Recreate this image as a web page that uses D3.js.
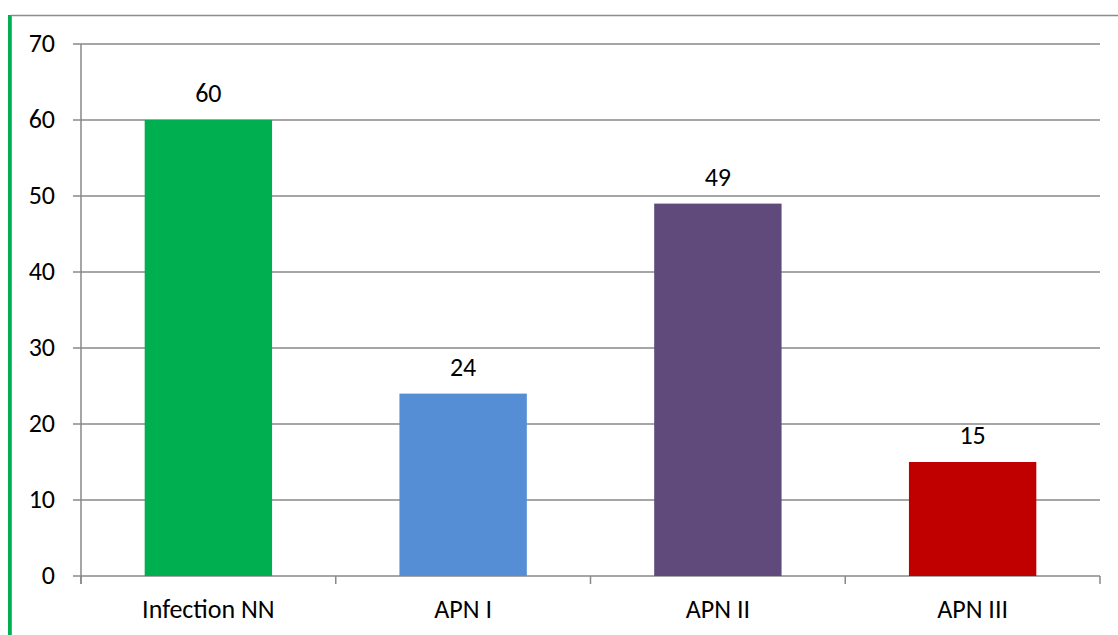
<!DOCTYPE html>
<html>
<head>
<meta charset="utf-8">
<script src="https://cdn.jsdelivr.net/npm/d3@7"></script>
<style>
  body { margin: 0; background: #fff; }
  svg { display: block; }
</style>
</head>
<body>
<svg width="1118" height="635"></svg>
<script>
const categories = ["Infection NN", "APN I", "APN II", "APN III"];
const values = [60, 24, 49, 15];
const barColors = ["#00B050", "#558ED5", "#604A7B", "#C00000"];
const yTicks = [0, 10, 20, 30, 40, 50, 60, 70];

const svg = d3.select("svg");
const font = "Carlito, 'Open Sans', 'Liberation Sans', sans-serif";
const fontSize = 26;

// frame: top gray rule and green left border
svg.append("line")
    .attr("x1", 11).attr("x2", 1118).attr("y1", 15.5).attr("y2", 15.5)
    .attr("stroke", "#8c8c8c").attr("stroke-width", 1.5);
svg.append("rect")
    .attr("x", 8).attr("y", 15).attr("width", 3).attr("height", 620)
    .attr("fill", "#00B050");
svg.append("line")
    .attr("x1", 11.5).attr("x2", 11.5).attr("y1", 15).attr("y2", 635)
    .attr("stroke", "#8c8c8c").attr("stroke-width", 1);

const plotLeft = 81, plotRight = 1100, plotTop = 44, plotBottom = 576;

const x = d3.scaleBand()
    .domain(categories)
    .range([plotLeft, plotRight])
    .paddingInner(0.5)
    .paddingOuter(0.25);

const y = d3.scaleLinear()
    .domain([0, 70])
    .range([plotBottom, plotTop]);

// gridlines
svg.append("g")
    .selectAll("line")
    .data(yTicks)
    .enter().append("line")
    .attr("x1", plotLeft - 8)
    .attr("x2", plotRight)
    .attr("y1", d => y(d))
    .attr("y2", d => y(d))
    .attr("stroke", "#898989")
    .attr("stroke-width", 1.5);

// y axis line
svg.append("line")
    .attr("x1", plotLeft).attr("x2", plotLeft)
    .attr("y1", plotTop).attr("y2", plotBottom + 8)
    .attr("stroke", "#898989").attr("stroke-width", 1.5);

// x axis category ticks
const edges = d3.range(categories.length + 1).map(i => plotLeft + i * (plotRight - plotLeft) / categories.length);
svg.append("g")
    .selectAll("line")
    .data(edges)
    .enter().append("line")
    .attr("x1", d => d).attr("x2", d => d)
    .attr("y1", plotBottom).attr("y2", plotBottom + 8)
    .attr("stroke", "#898989").attr("stroke-width", 1.5);

// y tick labels
svg.append("g")
    .selectAll("text")
    .data(yTicks)
    .enter().append("text")
    .attr("x", 55)
    .attr("y", d => y(d) + 8)
    .attr("text-anchor", "end")
    .attr("font-family", font)
    .attr("font-size", fontSize)
    .attr("fill", "#000")
    .text(d => d);

// bars
svg.append("g")
    .selectAll("rect")
    .data(values)
    .enter().append("rect")
    .attr("x", (d, i) => x(categories[i]))
    .attr("y", d => y(d))
    .attr("width", x.bandwidth())
    .attr("height", d => y(0) - y(d))
    .attr("fill", (d, i) => barColors[i]);

// value labels
svg.append("g")
    .selectAll("text")
    .data(values)
    .enter().append("text")
    .attr("x", (d, i) => x(categories[i]) + x.bandwidth() / 2)
    .attr("y", d => y(d) - 18)
    .attr("text-anchor", "middle")
    .attr("font-family", font)
    .attr("font-size", fontSize)
    .attr("fill", "#000")
    .text(d => d);

// category labels
svg.append("g")
    .selectAll("text")
    .data(categories)
    .enter().append("text")
    .attr("x", d => x(d) + x.bandwidth() / 2)
    .attr("y", 618)
    .attr("text-anchor", "middle")
    .attr("font-family", font)
    .attr("font-size", fontSize)
    .attr("fill", "#000")
    .text(d => d);
</script>
</body>
</html>
